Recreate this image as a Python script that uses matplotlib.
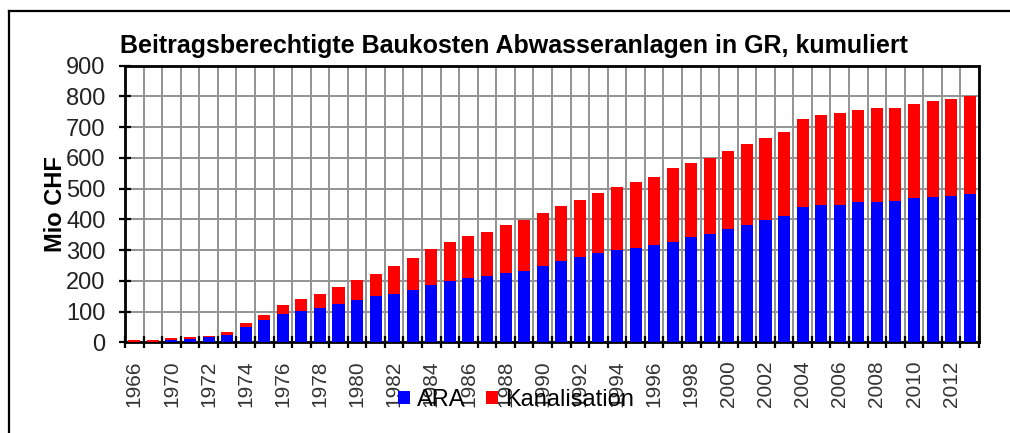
import numpy as np
import matplotlib
matplotlib.use("Agg")
import matplotlib.pyplot as plt
from matplotlib.lines import Line2D
from matplotlib.ticker import FixedLocator, NullFormatter

plt.rcParams['font.family'] = ['Liberation Sans', 'DejaVu Sans']

# Jahre (nur jedes zweite wird beschriftet)
years = ['1966', '1968'] + [str(y) for y in range(1970, 2014)]

# kumulierte Baukosten in Mio CHF
ara = [1, 1, 8, 12, 17, 25, 50, 74, 91, 103,
       113, 125, 138, 150, 158, 170, 186, 199, 208, 215,
       224, 232, 249, 265, 277, 290, 299, 306, 315, 327,
       344, 352, 369, 382, 398, 411, 440, 448, 448, 457,
       457, 460, 469, 473, 477, 482]
kanalisation = [6, 6, 5, 4, 5, 7, 12, 16, 29, 38,
                44, 54, 65, 73, 91, 103, 116, 128, 137, 145,
                157, 166, 173, 179, 187, 195, 207, 217, 224, 241,
                241, 249, 254, 262, 267, 274, 286, 291, 299, 298,
                306, 303, 307, 312, 315, 319]

title = 'Beitragsberechtigte Baukosten Abwasseranlagen in GR, kumuliert'

x = np.arange(len(years))

fig = plt.figure(figsize=(10.1, 4.33), dpi=100)
ax = fig.add_axes([125 / 1010, 1 - 342.3 / 433, 854 / 1010, 276.6 / 433])

ax.bar(x, ara, width=0.65, color='#0000FF', label='ARA', zorder=3)
ax.bar(x, kanalisation, width=0.65, bottom=ara, color='#FF0000',
       label='Kanalisation', zorder=3)

ax.set_xlim(-0.5, len(years) - 0.5)
ax.set_ylim(0, 900)
ax.set_yticks(range(0, 901, 100))

# Beschriftung in der Mitte, Striche und Gitter an den Grenzen
ax.set_xticks(x[::2])
ax.set_xticklabels(years[::2], rotation=90, fontsize=15, color='#333333')
ax.tick_params(axis='x', which='major', length=0, pad=13)
ax.xaxis.set_minor_locator(FixedLocator(np.arange(-0.5, len(years), 1)))
ax.xaxis.set_minor_formatter(NullFormatter())
ax.tick_params(axis='x', which='minor', length=8, width=1.6,
               direction='inout', color='black')
ax.tick_params(axis='y', length=8, width=1.6, direction='inout',
               labelsize=17, pad=10, labelcolor='#222222')

ax.grid(True, axis='y', which='major', color='#939393', lw=1.4, zorder=0)
ax.grid(True, axis='x', which='minor', color='#939393', lw=1.4, zorder=0)
ax.set_axisbelow(True)

for s in ax.spines.values():
    s.set_linewidth(2)
    s.set_color('black')

ax.set_ylabel('Mio CHF', fontsize=17, fontweight='bold', labelpad=-1)

fig.text(120 / 1010, 1 - 46 / 433, title, fontsize=18, fontweight='bold',
         ha='left', va='center')

leg = fig.legend(loc='center', bbox_to_anchor=(516 / 1010, 1 - 400 / 433),
                 ncol=2, frameon=False, fontsize=17, handlelength=0.5,
                 handleheight=0.5, handletextpad=0.3, columnspacing=0.9,
                 borderpad=0)

# Rahmen links und oben
fig.add_artist(Line2D([9 / 1010, 9 / 1010], [0, 1 - 11 / 433],
                      transform=fig.transFigure, color='black', lw=1.6))
fig.add_artist(Line2D([9 / 1010, 1], [1 - 11 / 433, 1 - 11 / 433],
                      transform=fig.transFigure, color='black', lw=1.6))

fig.savefig('out.png', dpi=100)
